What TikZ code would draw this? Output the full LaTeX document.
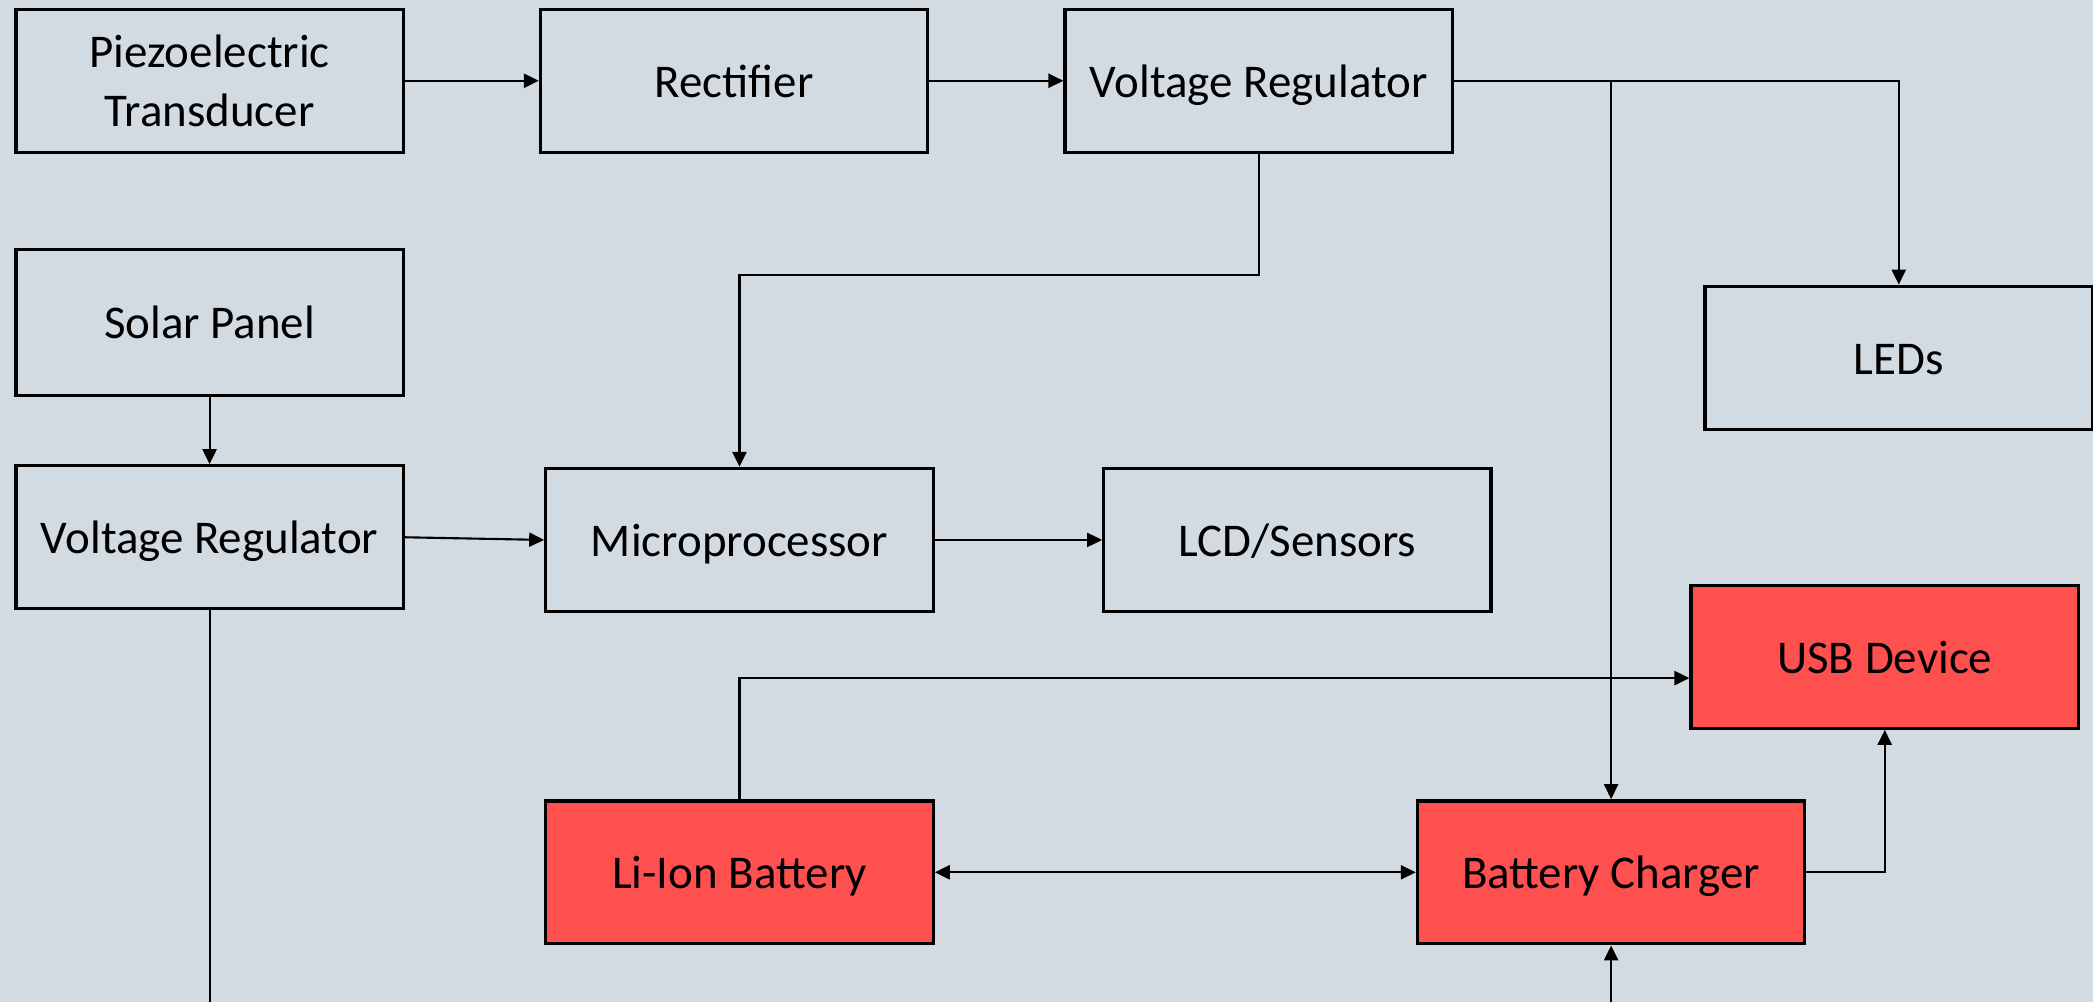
\documentclass[tikz,border=0pt]{standalone}
\usepackage{fontspec}
\setmainfont{Carlito}
\usetikzlibrary{arrows.meta}
\definecolor{bg}{HTML}{D3DBE2}
\definecolor{redbox}{HTML}{FF5050}
\begin{document}
\begin{tikzpicture}[x=0.01cm,y=-0.01cm,
  box/.style={draw=black,line width=0.7pt,minimum width=2.9cm,minimum height=1.07cm,inner sep=0pt,align=center,font=\fontsize{10}{12.5}\selectfont},
  one/.style={box,text height=0.7em,text depth=0pt},
  redb/.style={one,fill=redbox},
  conn/.style={line width=0.45pt},
  arr/.style={conn,-{Triangle[length=3.2pt,width=3pt]}},
  arrb/.style={conn,{Triangle[length=3.2pt,width=3pt]}-{Triangle[length=3.2pt,width=3pt]}}]
\fill[bg] (0,0) rectangle (1568,751);
\useasboundingbox (0,0) rectangle (1568,751);
\node[box] (piezo) at (157,60.5) {Piezoelectric\\Transducer};
\node[one] (rect) at (550,60.5) {Rectifier};
\node[one] (vr1) at (943,60.5) {Voltage Regulator};
\node[one,minimum height=1.09cm] (solar) at (157,241.5) {Solar Panel};
\node[one] (vr2) at (157,402.5) {Voltage Regulator};
\node[one] (micro) at (554,404.5) {Microprocessor};
\node[one] (lcd) at (972,404.5) {LCD/Sensors};
\node[one] (leds) at (1422.5,268) {LEDs};
\node[redb] (usb) at (1412,492) {USB Device};
\node[redb] (li) at (554,653.5) {Li-Ion Battery};
\node[redb] (bc) at (1207,653.5) {Battery Charger};
\coordinate (b1) at (157,751);
\coordinate (b2) at (1207,751);
\draw[arr] (piezo) -- (rect);
\draw[arr] (rect) -- (vr1);
\draw[arr] (vr1.east) -| (leds.north);
\draw[arr] (vr1.east -| bc.north) -- (bc.north);
\draw[arr] (vr1.south) -- (vr1.south |- 0,206) -| (micro.north);
\draw[arr] (solar) -- (vr2);
\draw[arr] (vr2.east) -- (micro.west);
\draw[arr] (micro) -- (lcd);
\draw[conn] (vr2.south) -- (b1);
\draw[arr] (li.north) |- (usb.west |- 0,508);
\draw[arrb] (li) -- (bc);
\draw[arr] (bc.east) -| (usb.south);
\draw[arr] (b2) -- (bc.south);
\end{tikzpicture}
\end{document}
